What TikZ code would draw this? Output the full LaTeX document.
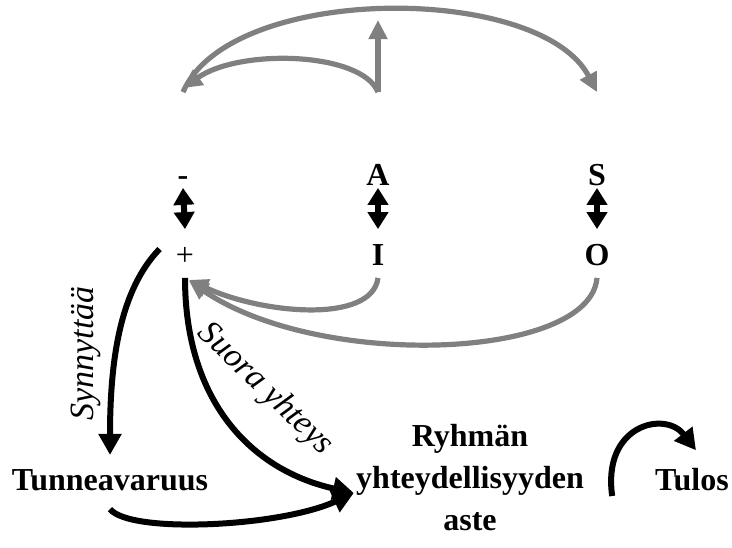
\documentclass[tikz,border=0pt]{standalone}
\usepackage{fontspec}
\setmainfont{Liberation Serif}
\usetikzlibrary{arrows.meta}
\tikzset{
  pole/.style={font=\fontsize{16}{21}\selectfont\bfseries, inner sep=0pt, text height=10.5pt, text depth=0pt},
  box/.style={font=\fontsize{16}{21}\selectfont\bfseries, inner sep=0pt, align=center},
  verb/.style={font=\fontsize{17}{19}\selectfont\itshape, inner sep=0pt},
  link/.style={line width=3pt, -{Triangle[length=10.5pt,width=11pt]}},
  both/.style={line width=3pt, {Triangle[length=8.5pt,width=10pt]}-{Triangle[length=8.5pt,width=10pt]}},
  back/.style={gray, line width=2.6pt, -{Triangle[length=9.5pt,width=9pt]}}
}
\begin{document}
\begin{tikzpicture}[x=0.5pt,y=-0.5pt]
    \useasboundingbox (0,0) rectangle (732,547);
    % Poles
    \node[pole] (minus) at (183,175) {-};
    \node[pole] (A) at (378,175) {A};
    \node[pole] (S) at (597,175) {S};
    \node[pole] (plus) at (185,255) {\mdseries +};
    \node[pole] (I) at (378,255) {I};
    \node[pole] (O) at (597,255) {O};
    % Outcomes
    \node[box] (tunne) at (110,480) {Tunneavaruus};
    \node[box] (ryhma) at (470,478) {Ryhmän\\yhteydellisyyden\\aste};
    \node[box] (tulos) at (692,480) {Tulos};
    % Pole pairs
    \draw[both] ([yshift=-1pt]minus.south) -- ([yshift=7.5pt]plus.north);
    \draw[both] ([yshift=-1pt]A.south) -- ([yshift=7.5pt]I.north);
    \draw[both] ([yshift=-1pt]S.south) -- ([yshift=7.5pt]O.north);
    % Upper loops
    \coordinate (Atop) at (378,20);
    \draw[back] ([yshift=36pt]A.north) -- (Atop);
    \draw[back] ([yshift=36pt]A.north) .. controls (362,52) and (240,48) .. ([yshift=38pt]minus.north);
    \draw[back] ([yshift=36pt]minus.north) .. controls (230,-17) and (540,-17) .. ([yshift=36pt]S.north);
    % Lower loops
    \draw[back] ([yshift=-6pt]I.south) .. controls (372,324) and (262,314) .. ([xshift=2pt,yshift=-7pt]plus.south);
    \draw[back] ([yshift=-6pt]O.south) .. controls (590,360) and (320,370) .. ([xshift=2pt,yshift=-7.5pt]plus.south);
    % Effects
    \draw[link] ([xshift=-8pt,yshift=3pt]plus.west) .. controls (120,290) and (110,360) .. node[verb, pos=0.6, left=6pt, rotate=90, anchor=south] {Synnyttää} ([yshift=7pt]tunne.north);
    \draw[link] ([yshift=-6pt]plus.south) .. controls (185,400) and (250,470) .. node[verb, pos=0.42, rotate=-44, xshift=12pt, yshift=22pt] {Suora yhteys} ([xshift=-1pt,yshift=-7.5pt]ryhma.west);
    \draw[link] ([yshift=-9pt]tunne.south) .. controls (130,534) and (280,527) .. ([xshift=-1pt,yshift=-7.5pt]ryhma.west);
    \draw[link] ([xshift=14pt,yshift=-9pt]ryhma.east) .. controls (602,425) and (665,410) .. ([xshift=2pt,yshift=9pt]tulos.north);
\end{tikzpicture}
\end{document}
